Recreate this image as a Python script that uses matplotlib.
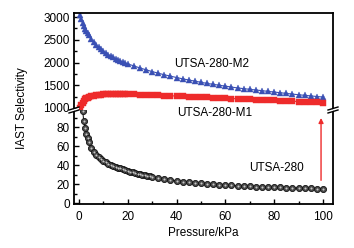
import matplotlib
matplotlib.use("Agg")
import matplotlib.pyplot as plt
from matplotlib.lines import Line2D
from matplotlib.patches import Polygon

# ---------------- data ----------------
x_m = [0.5, 1, 1.5, 2, 2.5, 3, 3.5, 4,
       5, 6, 7, 8, 9, 10, 11, 12, 13, 14, 15, 16, 17, 18, 19, 20,
       22.5, 25, 27.5, 30, 32.5, 35, 37.5, 40, 42.5, 45, 47.5, 50,
       52.5, 55, 57.5, 60, 62.5, 65, 67.5, 70, 72.5, 75, 77.5, 80,
       82.5, 85, 87.5, 90, 92.5, 95, 97.5, 100]
m2 = [3050, 2950, 2870, 2800, 2740, 2690, 2640, 2600,
      2520, 2450, 2390, 2340, 2290, 2250, 2210, 2175, 2145, 2115, 2085, 2060, 2035, 2010, 1990, 1970,
      1925, 1880, 1840, 1800, 1765, 1730, 1700, 1670, 1640, 1615, 1590, 1565,
      1540, 1520, 1500, 1480, 1460, 1440, 1425, 1410, 1395, 1380, 1365, 1350,
      1335, 1320, 1305, 1290, 1278, 1265, 1252, 1240]
m1 = [1000, 1070, 1120, 1160, 1190, 1210, 1228, 1240,
      1258, 1272, 1282, 1290, 1296, 1300, 1303, 1305, 1307, 1308, 1308, 1308, 1307, 1306, 1305, 1303,
      1299, 1295, 1290, 1285, 1280, 1274, 1268, 1262, 1256, 1250, 1244, 1238,
      1232, 1226, 1220, 1214, 1208, 1202, 1196, 1190, 1184, 1178, 1172, 1166,
      1160, 1154, 1148, 1142, 1136, 1130, 1124, 1118]
x_0 = [1.5, 2, 2.5, 3, 3.5, 4,
       5, 6, 7, 8, 9, 10, 11, 12, 13, 14, 15, 16, 17, 18, 19, 20,
       21, 22, 23, 24, 25, 26, 27, 28, 29, 30,
       32.5, 35, 37.5, 40, 42.5, 45, 47.5, 50, 52.5, 55, 57.5, 60,
       62.5, 65, 67.5, 70, 72.5, 75, 77.5, 80, 82.5, 85, 87.5, 90,
       92.5, 95, 97.5, 100]
u0 = [97, 86, 79, 73, 68, 64,
      58, 54, 51, 48.5, 46.5, 44.5, 43, 41.5, 40.3, 39.2, 38.2, 37.3, 36.4, 35.6, 34.8, 34,
      33.2, 32.5, 31.8, 31.1, 30.5, 29.9, 29.3, 28.7, 28.1, 27.6,
      26.4, 25.3, 24.3, 23.4, 22.6, 21.9, 21.3, 20.7, 20.2, 19.7, 19.3, 18.9,
      18.5, 18.2, 17.9, 17.6, 17.3, 17.0, 16.8, 16.6, 16.4, 16.2, 16.0, 15.8,
      15.6, 15.5, 15.3, 15.2]
labels = ["UTSA-280-M2", "UTSA-280-M1", "UTSA-280"]
top_ticks = [1000, 1500, 2000, 2500, 3000]
bot_ticks = [0, 20, 40, 60, 80]
x_ticks = [0, 20, 40, 60, 80, 100]

plt.rcParams['font.family'] = ['Liberation Sans', 'DejaVu Sans']
FS = 8.5
W, H = 354, 248
fig = plt.figure(figsize=(W / 100, H / 100), dpi=100)

L, R, T, B, MID = 74, 333, 13, 204, 110
def fx(px): return px / W
def fy(py): return 1 - py / H

ax_t = fig.add_axes([fx(L), fy(MID), fx(R) - fx(L), fy(T) - fy(MID)])
ax_b = fig.add_axes([fx(L), fy(B), fx(R) - fx(L), fy(MID) - fy(B)])

blue = '#3a50b4'
red = '#ee2b2b'
ax_t.plot(x_m, m2, color=blue, lw=0.8, marker='^', ms=4.5, mfc=blue, mec=blue, mew=0.3)
ax_t.plot(x_m, m1, color=red, lw=0.8, marker='s', ms=4.2, mfc=red, mec=red, mew=0.3)
ax_b.plot(x_0, u0, color='#222222', lw=0.8, marker='o', ms=4.4, mfc='#4a4a4a', mec='#111111', mew=0.6)
ax_b.plot(x_0, u0, ls='none', marker='o', ms=1.5, mfc='#c8c8c8', mec='none')

for ax in (ax_t, ax_b):
    ax.set_xlim(-2.05, 104.1)
    for s in ax.spines.values():
        s.set_linewidth(1.3)
    ax.tick_params(direction='in', which='both', labelsize=FS, width=1.0,
                   right=False, top=False, pad=3)
    ax.tick_params(which='major', length=3.5)
    ax.tick_params(which='minor', length=2)

ax_t.set_ylim(955, 3090)
ax_t.set_yticks(top_ticks)
ax_t.set_yticks([1250, 1750, 2250, 2750], minor=True)
ax_t.set_xticks(x_ticks)
ax_t.tick_params(axis='x', which='both', bottom=False, labelbottom=False)
ax_t.spines['bottom'].set_visible(False)

ax_b.set_ylim(-1, 98)
ax_b.set_yticks(bot_ticks)
ax_b.set_yticks([10, 30, 50, 70, 90], minor=True)
ax_b.set_xticks(x_ticks)
ax_b.set_xticks([10, 30, 50, 70, 90], minor=True)
ax_b.tick_params(axis='x', which='both', pad=5)
ax_b.spines['top'].set_visible(False)
ax_b.set_xlabel('Pressure/kPa', fontsize=FS, labelpad=3)

fig.text(fx(22), fy(108), 'IAST Selectivity', rotation=90, ha='center', va='center', fontsize=FS)

ax_b.annotate('', xy=(99.2, 92.5), xytext=(99.2, 21),
              arrowprops=dict(arrowstyle='-|>', color=red, lw=1.0, mutation_scale=7))

fig.text(fx(212), fy(64), labels[0], ha='center', va='center', fontsize=FS)
fig.text(fx(215), fy(113), labels[1], ha='center', va='center', fontsize=FS)
fig.text(fx(277), fy(168), labels[2], ha='center', va='center', fontsize=FS)

# break marks
for px in (L, R):
    cx, cy = px, MID
    poly = Polygon([(fx(cx - 5), fy(cy + 0.5)), (fx(cx + 5), fy(cy - 2.5)),
                    (fx(cx + 5), fy(cy - 0.5)), (fx(cx - 5), fy(cy + 2.5))],
                   closed=True, transform=fig.transFigure, facecolor='white',
                   edgecolor='none', zorder=10)
    fig.add_artist(poly)
    for off in (-1.5, 1.5):
        fig.add_artist(Line2D([fx(cx - 5), fx(cx + 5)], [fy(cy + 1.5 + off), fy(cy - 1.5 + off)],
                              transform=fig.transFigure, color='black', lw=1.0, zorder=11))

fig.savefig('out.png', dpi=100)
